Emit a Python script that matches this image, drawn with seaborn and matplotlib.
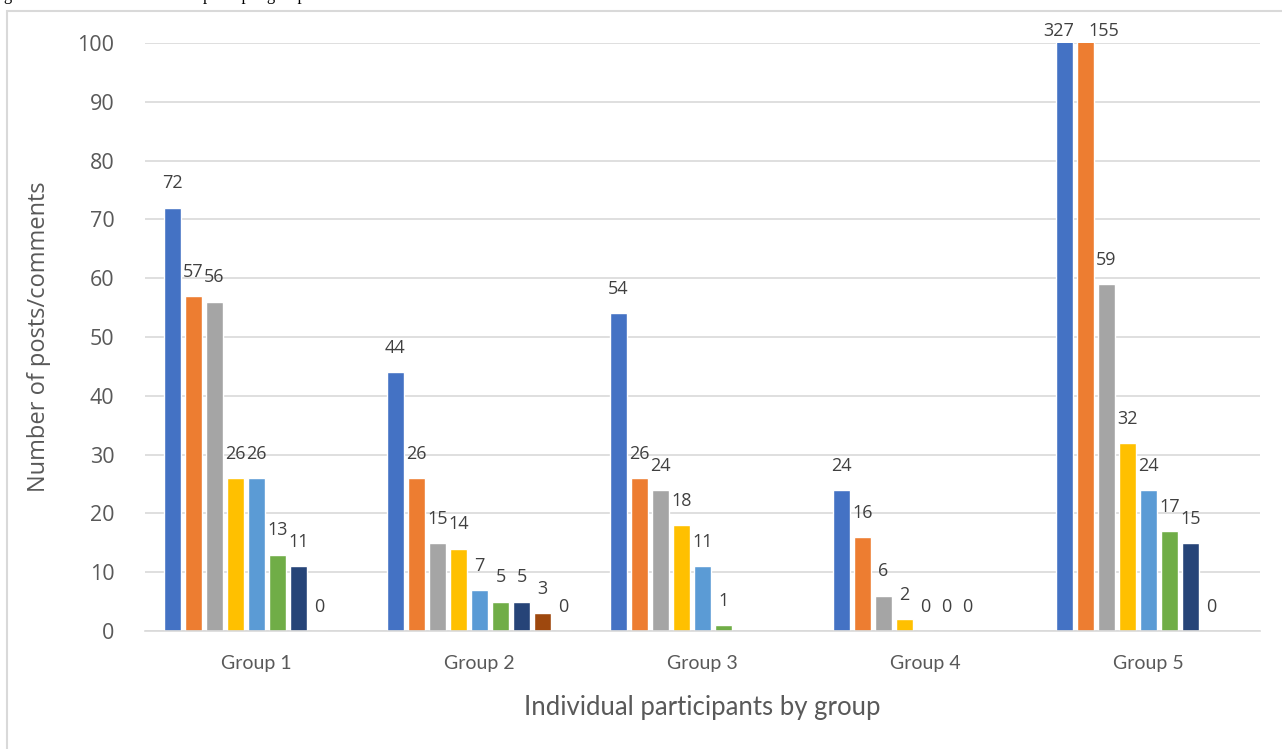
import numpy as np
import pandas as pd
import seaborn as sns
import matplotlib.pyplot as plt
from matplotlib.patches import Rectangle

# values (None = no bar / no label)
groups = ['Group 1', 'Group 2', 'Group 3', 'Group 4', 'Group 5']
p1 = [72, 44, 54, 24, 327]
p2 = [57, 26, 26, 16, 155]
p3 = [56, 15, 24, 6, 59]
p4 = [26, 14, 18, 2, 32]
p5 = [26, 7, 11, 0, 24]
p6 = [13, 5, 1, 0, 17]
p7 = [11, 5, None, 0, 15]
p8 = [0, 3, None, None, 0]
p9 = [None, 0, None, None, None]
series = ['P1', 'P2', 'P3', 'P4', 'P5', 'P6', 'P7', 'P8', 'P9']
colors = ['#4472C4', '#ED7D31', '#A5A5A5', '#FFC000', '#5B9BD5',
          '#70AD47', '#264478', '#9E480E', '#636363']

rows = []
for name, vals in zip(series, [p1, p2, p3, p4, p5, p6, p7, p8, p9]):
    for g, v in zip(groups, vals):
        rows.append({'group': g, 'participant': name,
                     'posts': np.nan if v is None else v})
df = pd.DataFrame(rows)

sns.set_style('white')
plt.rcParams['font.family'] = ['Open Sans', 'DejaVu Sans']

fig = plt.figure(figsize=(12.82, 7.49), dpi=100)
ax = fig.add_axes([145 / 1282, 1 - 631 / 749, 1115 / 1282, 588 / 749])

sns.barplot(data=df, x='group', y='posts', hue='participant',
            hue_order=series, palette=colors, width=0.85, gap=0.2,
            saturation=1, ax=ax, legend=False, errorbar=None)

ax.set_ylim(0, 100)
ax.set_xlim(-0.5, 4.5)
ax.set_yticks(range(0, 101, 10))
ax.yaxis.grid(True, color='#D9D9D9', lw=1.2)
ax.set_axisbelow(True)
for s in ['top', 'right', 'left']:
    ax.spines[s].set_visible(False)
ax.spines['bottom'].set_color('#D9D9D9')
ax.spines['bottom'].set_linewidth(1.2)
ax.tick_params(axis='both', length=0)
ax.tick_params(axis='y', labelsize=15.5, labelcolor='#595959', pad=22)
ax.tick_params(axis='x', labelsize=14, labelcolor='#595959', pad=17)
for t in ax.get_xticklabels():
    t.set_family(['Lato', 'DejaVu Sans'])

ax.set_xlabel('Individual participants by group', fontsize=18.5, color='#595959',
              family=['Lato', 'DejaVu Sans'], labelpad=17)
ax.set_ylabel('Number of posts/comments', fontsize=17, color='#595959', labelpad=19)

# data labels
clipped = 0
for cont in ax.containers:
    for bar, v in zip(cont, cont.datavalues):
        if np.isnan(v):
            continue
        cx = bar.get_x() + bar.get_width() / 2
        if v > 100:
            # bars cut off at the top of the axis, labels nudged apart
            dx = -6 if clipped == 0 else 18
            clipped += 1
            ax.annotate(f'{int(v)}', (cx, 100), xytext=(dx * 0.72, 2),
                        textcoords='offset points', ha='center', va='bottom',
                        fontsize=13, color='#404040', annotation_clip=False)
        else:
            ax.annotate(f'{int(v)}', (cx, v), xytext=(0, 11),
                        textcoords='offset points', ha='center', va='bottom',
                        fontsize=13, color='#404040')

# chart frame and caption cut off at the top edge
fig.patches.append(Rectangle((7 / 1282, -0.1), 1.2, 1 - 11 / 749 + 0.1,
                             transform=fig.transFigure, fill=False,
                             edgecolor='#D9D9D9', lw=1.5))
fig.text(310 / 1282, 1 - 0.5 / 749, 'Figure 5. Number of individual posts per group.',
         ha='right', va='baseline', fontsize=12, family='Liberation Serif',
         color='#000000')

fig.savefig('out.png', dpi=100)
